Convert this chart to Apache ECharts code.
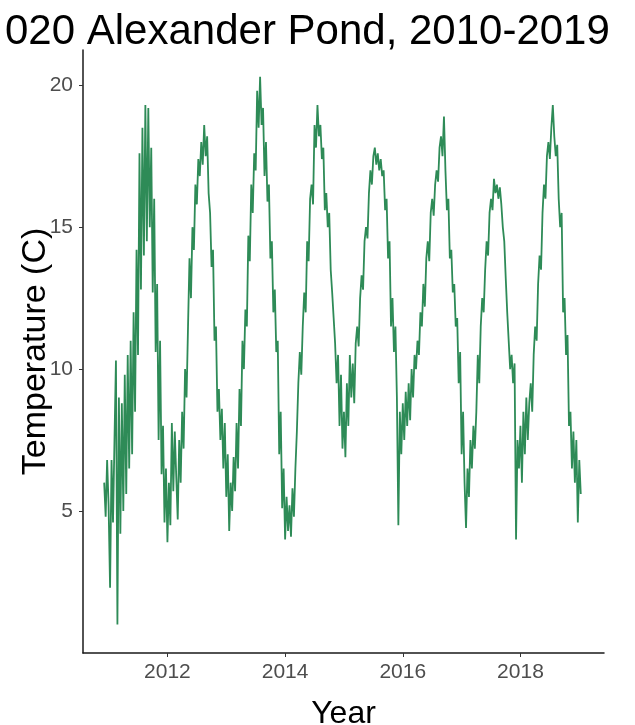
<!DOCTYPE html>
<html>
<head>
<meta charset="utf-8">
<script src="https://cdn.jsdelivr.net/npm/echarts@6/dist/echarts.min.js"></script>
<style>
  html, body { margin: 0; padding: 0; background: #ffffff; }
  #chart { width: 635px; height: 725px; }
</style>
</head>
<body>
<div id="chart"></div>
<script>
// Sampling: 40 readings per year; reading k of a year is at year + k/40
const samplesPerYear = 40;
const t2010 = [6.0, 4.8, 6.8]; // last three readings of 2010 (k = 37..39)
const t2011 = [5.2, 2.3, 6.8, 4.6, 7.5, 10.3, 1.0, 9.0, 4.2, 8.8, 5.0, 9.8, 5.6, 10.5, 6.5, 11.0, 7.0, 12.0, 8.5, 14.2,
               10.5, 17.6, 12.8, 18.5, 14.0, 19.3, 14.5, 19.2, 15.0, 17.8, 12.7, 16.0, 10.6, 13.0, 7.5, 11.0, 6.3, 8.0, 4.6, 6.5];
const t2012 = [3.9, 6.0, 4.5, 8.1, 5.7, 7.8, 6.2, 4.7, 7.5, 6.0, 8.5, 7.2, 10.0, 9.0, 11.5, 13.9, 12.5, 15.0, 14.2, 16.5,
               15.8, 17.4, 16.8, 18.0, 17.2, 18.6, 17.5, 18.2, 16.2, 15.5, 13.6, 14.2, 11.0, 11.5, 8.5, 9.3, 7.5, 8.6, 6.5, 8.1];
const t2013 = [5.5, 7.0, 4.3, 6.0, 5.0, 6.9, 5.7, 8.1, 6.5, 9.3, 8.0, 11.0, 10.0, 12.1, 11.5, 14.7, 13.8, 16.5, 15.5, 17.6,
               17.0, 19.8, 18.5, 20.3, 18.6, 19.2, 16.8, 18.0, 15.9, 16.5, 13.9, 14.5, 12.0, 12.8, 10.6, 11.0, 7.0, 8.5, 5.1, 6.5];
const t2014 = [4.0, 5.5, 4.3, 5.2, 4.1, 5.8, 4.8, 6.5, 7.8, 9.5, 10.6, 9.8, 11.5, 12.7, 12.0, 14.5, 13.8, 16.0, 16.5, 15.8,
               18.6, 17.8, 19.3, 18.2, 18.6, 17.4, 17.8, 15.6, 16.2, 15.0, 15.5, 13.5, 12.7, 11.8, 10.9, 9.5, 10.5, 8.0, 9.8, 7.2];
const t2015 = [8.5, 6.9, 9.5, 8.0, 10.5, 9.0, 10.2, 8.8, 10.9, 11.5, 10.8, 12.5, 13.3, 12.8, 14.5, 15.0, 14.6, 16.2, 17.0, 16.5,
               17.5, 17.8, 17.2, 17.6, 17.0, 17.4, 16.8, 17.0, 15.6, 16.0, 13.9, 14.5, 11.5, 12.5, 10.6, 11.5, 9.0, 4.5, 8.5, 7.0];
const t2016 = [8.8, 7.5, 9.2, 8.0, 9.5, 8.2, 10.0, 9.0, 10.5, 10.0, 11.0, 10.5, 12.0, 11.5, 13.0, 12.2, 13.9, 14.5, 13.8, 15.5,
               16.0, 15.4, 16.5, 17.0, 16.6, 17.8, 18.2, 17.5, 18.9, 17.0, 15.6, 16.0, 13.9, 14.2, 12.7, 13.0, 11.5, 11.8, 9.5, 10.6];
const t2017 = [7.0, 8.5, 6.0, 4.4, 6.5, 5.5, 7.5, 6.5, 8.0, 7.2, 8.5, 10.5, 9.5, 11.5, 12.5, 12.0, 13.5, 14.5, 14.0, 15.5,
               16.0, 15.6, 16.7, 16.2, 16.5, 16.0, 16.4, 15.8, 15.0, 14.5, 13.2, 12.0, 11.0, 10.0, 10.5, 9.5, 10.2, 4.0, 7.5, 6.5];
const t2018 = [8.0, 6.0, 8.5, 7.0, 9.0, 7.5, 8.8, 9.5, 8.5, 10.5, 11.5, 11.0, 13.0, 14.0, 13.5, 15.5, 16.5, 16.0, 17.5, 18.0,
               17.4, 18.5, 19.3, 18.2, 17.5, 17.9, 16.0, 15.0, 15.5, 12.0, 12.5, 10.5, 11.2, 8.0, 8.5, 6.5, 7.8, 6.0, 7.5, 4.6];
const t2019 = [6.8, 5.6];

const yearTicks = [2012, 2014, 2016, 2018];
const tempTicks = [5, 10, 15, 20];
const titleText = '020 Alexander Pond, 2010-2019';
const xName = 'Year';
const yName = 'Temperature (C)';

// build [time, temperature] pairs
const points = [];
t2010.forEach((v, i) => points.push([2010 + (37 + i) / samplesPerYear, v]));
[[2011, t2011], [2012, t2012], [2013, t2013], [2014, t2014], [2015, t2015],
 [2016, t2016], [2017, t2017], [2018, t2018], [2019, t2019]].forEach(([yr, arr]) => {
  arr.forEach((v, k) => points.push([yr + k / samplesPerYear, v]));
});

const chart = echarts.init(document.getElementById('chart'), null, { renderer: 'canvas' });
const FONT = 'Liberation Sans, Arial, sans-serif';
chart.setOption({
  animation: false,
  backgroundColor: '#ffffff',
  title: {
    text: titleText,
    left: 0,
    top: 6,
    textStyle: { fontFamily: FONT, fontSize: 42, fontWeight: 'normal', color: '#000000' }
  },
  grid: { left: 83, right: 31, top: 50, bottom: 72, containLabel: false, outerBoundsMode: 'none' },
  xAxis: {
    type: 'value',
    min: 2010.565,
    max: 2019.42,
    name: xName,
    nameLocation: 'middle',
    nameGap: 45,
    nameMoveOverlap: false,
    nameTextStyle: { fontFamily: FONT, fontSize: 32, color: '#000000' },
    splitLine: { show: false },
    axisLine: { show: true, onZero: false, lineStyle: { color: '#1a1a1a', width: 1.5 } },
    axisTick: { show: true, length: 4, customValues: yearTicks, lineStyle: { color: '#333333', width: 1 } },
    axisLabel: { customValues: yearTicks, margin: 9, fontFamily: FONT, fontSize: 21, color: '#4d4d4d',
                 formatter: v => String(Math.round(v)) }
  },
  yAxis: {
    type: 'value',
    min: 0,
    max: 21.24,
    name: yName,
    nameLocation: 'middle',
    nameRotate: 90,
    nameGap: 30,
    nameMoveOverlap: false,
    nameTextStyle: { fontFamily: FONT, fontSize: 34, color: '#000000' },
    splitLine: { show: false },
    axisLine: { show: true, onZero: false, lineStyle: { color: '#1a1a1a', width: 1.5 } },
    axisTick: { show: true, length: 4, customValues: tempTicks, lineStyle: { color: '#333333', width: 1 } },
    axisLabel: { customValues: tempTicks, margin: 10, fontFamily: FONT, fontSize: 21, color: '#4d4d4d' }
  },
  series: [{
    type: 'line',
    data: points,
    showSymbol: false,
    symbol: 'none',
    lineStyle: { color: '#2E8B57', width: 1.8 },
    silent: true
  }]
});
</script>
</body>
</html>
